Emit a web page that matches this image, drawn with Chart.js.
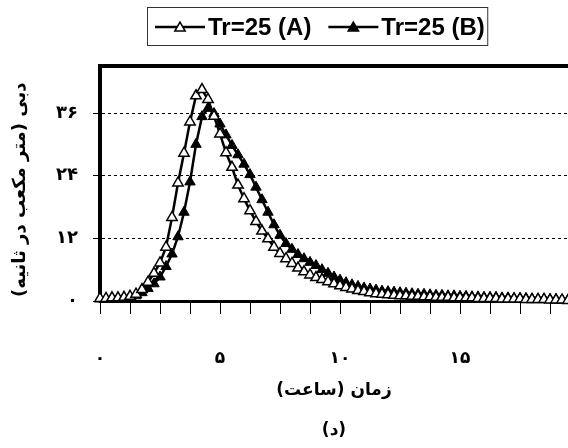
<!DOCTYPE html>
<html>
<head>
<meta charset="utf-8">
<script src="https://cdn.jsdelivr.net/npm/chart.js@4/dist/chart.umd.min.js"></script>
<style>
  html, body { margin: 0; padding: 0; background: #fff; }
  #wrap { width: 568px; height: 448px; position: relative; }
</style>
</head>
<body>
<div id="wrap"><canvas id="flowChart"></canvas></div>
<script>
// time (hours)
const hours = [
  0, 0.25, 0.5, 0.75, 1, 1.25, 1.5, 1.75, 2, 2.25, 2.5, 2.75,
  3, 3.25, 3.5, 3.75, 4, 4.25, 4.5, 4.75, 5, 5.25, 5.5, 5.75,
  6, 6.25, 6.5, 6.75, 7, 7.25, 7.5, 7.75, 8, 8.25, 8.5, 8.75,
  9, 9.25, 9.5, 9.75, 10, 10.25, 10.5, 10.75, 11, 11.25, 11.5, 11.75,
  12, 12.25, 12.5, 12.75, 13, 13.25, 13.5, 13.75, 14, 14.25, 14.5, 14.75,
  15, 15.25, 15.5, 15.75, 16, 16.25, 16.5, 16.75, 17, 17.25, 17.5, 17.75,
  18, 18.25, 18.5, 18.75, 19, 19.25, 19.5
];

// discharge, open triangles
const flowA = [
  0.5, 0.5, 0.6, 0.6, 0.7, 0.9, 1.3, 2.2, 3.6, 5.3, 7.3, 10.3,
  16.0, 22.6, 28.3, 34.3, 39.3, 40.5, 38.6, 35.4, 32.0, 28.4, 25.6, 22.2,
  19.6, 17.3, 15.2, 13.4, 11.9, 10.3, 9.1, 8.1, 7.2, 6.3, 5.6, 5.0,
  4.5, 4.1, 3.7, 3.3, 2.9, 2.6, 2.3, 2.0, 1.8, 1.6, 1.4, 1.3,
  1.2, 1.1, 1.0, 1.0, 0.9, 0.9, 0.8, 0.8, 0.7, 0.7, 0.7, 0.6,
  0.6, 0.6, 0.6, 0.5, 0.5, 0.5, 0.5, 0.4, 0.4, 0.4, 0.4, 0.3,
  0.3, 0.3, 0.3, 0.2, 0.2, 0.2, 0.1
];

// discharge, filled triangles
const flowB = [
  0.4, 0.4, 0.5, 0.5, 0.6, 0.7, 1.0, 1.6, 2.4, 3.3, 4.6, 6.6,
  9.0, 12.3, 17.0, 22.8, 30.0, 35.3, 36.9, 35.9, 33.9, 31.8, 29.8, 28.0,
  26.2, 24.2, 21.8, 19.4, 17.0, 14.6, 12.6, 11.0, 9.9, 8.9, 8.1, 7.4,
  6.8, 6.0, 5.3, 4.6, 4.0, 3.5, 3.1, 2.8, 2.5, 2.3, 2.1, 1.9,
  1.8, 1.7, 1.6, 1.5, 1.4, 1.3, 1.3, 1.2, 1.1, 1.1, 1.0, 1.0,
  0.9, 0.9, 0.8, 0.8, 0.7, 0.7, 0.7, 0.6, 0.6, 0.5, 0.5, 0.5,
  0.4, 0.4, 0.4, 0.3, 0.3, 0.2, 0.2
];

const seriesNames = ['Tr=25 (A)', 'Tr=25 (B)'];
const xTickValues = [0, 5, 10, 15];
const xTickText = ['۰', '۵', '۱۰', '۱۵'];
const yTickValues = [0, 12, 24, 36];
const yTickText = ['۰', '۱۲', '۲۴', '۳۶'];
// RLM marks keep the brackets in right-to-left order on the canvas
const yTitle = '\u200F  دبی (متر مکعب در ثانیه)\u200F';
const xTitle = 'زمان (ساعت)\u200F';
const panelLabel = '\u200F(د)\u200F';

const faFont = '"DejaVu Sans", sans-serif';

function toPoints(values) {
  return hours.map((h, i) => ({ x: h, y: values[i] }));
}

// box legend with line + marker, and the thick top frame line
const frameAndLegend = {
  id: 'frameAndLegend',
  afterDraw(chart) {
    const ctx = chart.ctx;
    const area = chart.chartArea;
    ctx.save();

    ctx.strokeStyle = '#000';
    ctx.lineWidth = 4;
    ctx.beginPath();
    ctx.moveTo(area.left - 2, area.top);
    ctx.lineTo(area.right, area.top);
    ctx.stroke();

    ctx.direction = 'ltr';
    ctx.font = 'bold 24px "Liberation Sans", Arial, sans-serif';
    ctx.textBaseline = 'middle';
    ctx.textAlign = 'left';
    const y = 27;
    let x = 155;
    chart.data.datasets.forEach(ds => {
      ctx.strokeStyle = '#000';
      ctx.lineWidth = 2.5;
      ctx.beginPath();
      ctx.moveTo(x, y);
      ctx.lineTo(x + 50, y);
      ctx.stroke();
      ctx.fillStyle = ds.pointBackgroundColor;
      ctx.strokeStyle = '#000';
      ctx.lineWidth = 1.5;
      Chart.helpers.drawPoint(ctx, { pointStyle: 'triangle', radius: 6, rotation: 0, borderWidth: 1.5 }, x + 25, y + 1);
      ctx.fillStyle = '#000';
      ctx.fillText(ds.label, x + 53, y + 1);
      x += 53 + ctx.measureText(ds.label).width + 17;
    });
    ctx.strokeStyle = '#333';
    ctx.lineWidth = 1;
    ctx.strokeRect(147.5, 7.5, x - 17 + 3 - 147.5, 38);
    ctx.restore();
  }
};

const ctx = document.getElementById('flowChart').getContext('2d');

const flowChart = new Chart(ctx, {
  type: 'line',
  data: {
    datasets: [{
      label: seriesNames[0],
      data: toPoints(flowA),
      borderColor: '#000',
      borderWidth: 2.5,
      pointStyle: 'triangle',
      pointRadius: 6,
      pointBackgroundColor: '#fff',
      pointBorderColor: '#000',
      pointBorderWidth: 1.5,
      tension: 0,
      clip: false
    }, {
      label: seriesNames[1],
      data: toPoints(flowB),
      borderColor: '#000',
      borderWidth: 2.5,
      pointStyle: 'triangle',
      pointRadius: 6,
      pointBackgroundColor: '#000',
      pointBorderColor: '#000',
      pointBorderWidth: 1,
      tension: 0,
      clip: false
    }]
  },
  options: {
    responsive: true,
    maintainAspectRatio: false,
    animation: false,
    layout: { autoPadding: false, padding: { top: 66, left: 0, right: 0, bottom: 0 } },
    plugins: {
      legend: { display: false },
      tooltip: { enabled: false }
    },
    scales: {
      x: {
        type: 'linear',
        min: 0,
        max: 19.5,
        afterFit: scale => { scale.height = 147; },
        border: { display: true, color: '#000', width: 3 },
        grid: {
          drawOnChartArea: false,
          drawTicks: true,
          // long tick so the labels sit low, but only the first 11px is drawn
          tickLength: 47,
          tickBorderDash: [11, 100],
          tickColor: '#000',
          tickWidth: 1
        },
        ticks: {
          stepSize: 1.25,
          autoSkip: false,
          includeBounds: false,
          maxRotation: 0,
          padding: 0,
          color: '#000',
          font: { family: faFont, size: 17, weight: 'bold' },
          callback: function (value) {
            const i = xTickValues.indexOf(value);
            return i >= 0 ? xTickText[i] : '';
          }
        },
        title: {
          display: true,
          text: [xTitle, panelLabel],
          color: '#000',
          font: { family: faFont, size: 17, weight: 'bold', lineHeight: 2.35 },
          padding: { top: 0, bottom: -3 }
        }
      },
      y: {
        min: 0,
        max: 45,
        afterFit: scale => { scale.width = 100; },
        border: { display: true, color: '#000', width: 4, dash: [3, 3] },
        grid: {
          color: c => (c.tick && c.tick.value === 0 ? 'rgba(0,0,0,0)' : '#000'),
          lineWidth: 1,
          drawTicks: true,
          tickLength: 7,
          tickColor: '#000',
          tickWidth: 1
        },
        ticks: {
          stepSize: 12,
          includeBounds: false,
          padding: 15,
          color: '#000',
          font: { family: faFont, size: 18, weight: 'bold' },
          callback: function (value) {
            const i = yTickValues.indexOf(value);
            return i >= 0 ? yTickText[i] : '';
          }
        },
        title: {
          display: true,
          text: yTitle,
          color: '#000',
          font: { family: faFont, size: 18, weight: 'bold' },
          padding: { top: 10, bottom: 0 }
        }
      }
    }
  },
  plugins: [frameAndLegend]
});
</script>
</body>
</html>
